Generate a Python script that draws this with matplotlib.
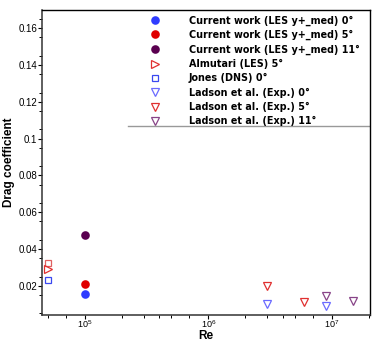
import matplotlib
matplotlib.use("Agg")
import matplotlib.pyplot as plt
from matplotlib.ticker import FixedLocator, FuncFormatter, LogLocator
from matplotlib.lines import Line2D

plt.rcParams['font.family'] = ['Liberation Sans', 'DejaVu Sans']

# ---- data ----
re_current = [1e5]
cd_current_0 = [0.0157]
cd_current_5 = [0.0207]
cd_current_11 = [0.0475]

re_almutari = [5e4]
cd_almutari_5 = [0.0291]

re_jones = [5e4]
cd_jones_0 = [0.0233]
cd_jones_extra = [0.0321]

re_ladson_0 = [3e6, 9e6]
cd_ladson_0 = [0.0100, 0.0090]
re_ladson_5 = [3e6, 6e6]
cd_ladson_5 = [0.0197, 0.0110]
re_ladson_11 = [9e6, 1.5e7]
cd_ladson_11 = [0.0144, 0.0115]

yticks = [0.02, 0.04, 0.06, 0.08, 0.1, 0.12, 0.14, 0.16]

fig = plt.figure(figsize=(3.82, 3.40), dpi=100)
ax = fig.add_axes([0.110, 0.073, 0.859, 0.898])

ax.plot(re_current, cd_current_0, 'o', color='#2f3cff', ms=6.2, mec='none',
        label='Current work (LES y+_med) 0°')
ax.plot(re_current, cd_current_5, 'o', color='#e00000', ms=6.2, mec='none',
        label='Current work (LES y+_med) 5°')
ax.plot(re_current, cd_current_11, 'o', color='#5a0050', ms=6.2, mec='none',
        label='Current work (LES y+_med) 11°')
ax.plot(re_jones, cd_jones_extra, 's', mfc='none', mec='#e06060', ms=5, mew=0.9)
ax.plot(re_almutari, cd_almutari_5, '>', mfc='none', mec='#e03030', ms=5.5, mew=0.9,
        label='Almutari (LES) 5°')
ax.plot(re_jones, cd_jones_0, 's', mfc='none', mec='#3a48f0', ms=5, mew=0.9,
        label='Jones (DNS) 0°')
ax.plot(re_ladson_0, cd_ladson_0, 'v', mfc='none', mec='#6a6aff', ms=6, mew=0.9,
        label='Ladson et al. (Exp.) 0°')
ax.plot(re_ladson_5, cd_ladson_5, 'v', mfc='none', mec='#e03030', ms=6, mew=0.9,
        label='Ladson et al. (Exp.) 5°')
ax.plot(re_ladson_11, cd_ladson_11, 'v', mfc='none', mec='#884488', ms=6, mew=0.9,
        label='Ladson et al. (Exp.) 11°')

ax.set_xscale('log')
ax.set_xlim(4.5e4, 2.05e7)
ax.set_ylim(0.004, 0.17)

ax.xaxis.set_major_locator(LogLocator(base=10, subs=(1.0,)))
ax.xaxis.set_minor_locator(LogLocator(base=10, subs=(2, 3, 4, 5, 7)))
ax.xaxis.set_minor_formatter(plt.NullFormatter())
ax.yaxis.set_major_locator(FixedLocator(yticks))
ax.yaxis.set_major_formatter(FuncFormatter(lambda v, p: '%g' % v))
ax.yaxis.set_minor_locator(FixedLocator([0.005 + 0.01 * i for i in range(17)]))

ax.tick_params(which='major', direction='out', length=3, width=0.8, labelsize=7)
ax.tick_params(axis='y', which='major', pad=0.5)
ax.tick_params(axis='x', which='major', pad=-0.8, labelsize=6.5)
ax.tick_params(which='minor', direction='out', length=2.2, width=0.7)

for side in ['left', 'bottom']:
    ax.spines[side].set_color('#333333')
    ax.spines[side].set_linewidth(1.1)
for side in ['top', 'right']:
    ax.spines[side].set_color('black')
    ax.spines[side].set_linewidth(1.0)

ax.set_xlabel('Re', fontsize=8.5, fontweight='bold')
ax.xaxis.set_label_coords(0.5, -0.047)
ax.set_ylabel('Drag coefficient', fontsize=8.5, fontweight='bold')
ax.yaxis.set_label_coords(-0.082, 0.5)

leg = ax.legend(loc='upper left', bbox_to_anchor=(0.317, 0.992), frameon=False,
                prop={'family': 'DejaVu Sans', 'size': 6.95, 'weight': 'bold'},
                handlelength=1.3, handletextpad=2.85, labelspacing=0.44,
                borderaxespad=0, borderpad=0.3)
ax.add_line(Line2D([0.262, 1.0], [0.621, 0.621], transform=ax.transAxes,
                   color='#999999', lw=1.0))

fig.savefig('out.png', dpi=100)
